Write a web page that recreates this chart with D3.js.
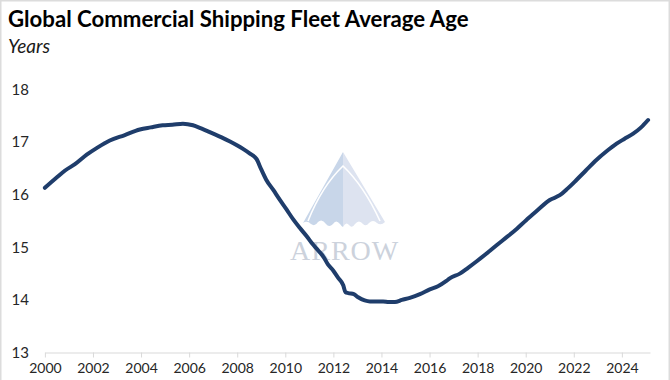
<!DOCTYPE html>
<html>
<head>
<meta charset="utf-8">
<script src="https://cdn.jsdelivr.net/npm/d3@7"></script>
<style>
  html, body { margin: 0; padding: 0; background: #fff; }
  svg { display: block; }
</style>
</head>
<body>
<svg id="chart" width="670" height="380"></svg>
<script>
// ---- data ----
const title = "Global Commercial Shipping Fleet Average Age";
const subtitle = "Years";
const years = [2000.0, 2000.5, 2000.84, 2001.25, 2001.74, 2002.2, 2002.7, 2003.3, 2003.95, 2004.4,
  2004.9, 2005.3, 2005.74, 2006.16, 2006.5, 2007.0, 2007.35, 2007.7, 2008.24, 2008.5,
  2008.8, 2009.0, 2009.2, 2009.5, 2009.76, 2010.05, 2010.33, 2010.6, 2010.89, 2011.1,
  2011.37, 2011.6, 2011.78, 2011.99, 2012.2, 2012.41, 2012.5, 2012.62, 2012.85, 2013.03,
  2013.3, 2013.52, 2013.8, 2014.07, 2014.3, 2014.56, 2014.85, 2015.18, 2015.6, 2016.01,
  2016.35, 2016.7, 2016.84, 2017.26, 2017.6, 2017.95, 2018.5, 2019.06, 2019.5, 2020.03,
  2020.5, 2021.0, 2021.42, 2021.75, 2022.11, 2022.5, 2022.94, 2023.35, 2023.78, 2024.1,
  2024.47, 2024.8, 2025.09];
const ages = [16.13, 16.33, 16.46, 16.58, 16.76, 16.90, 17.03, 17.13, 17.24, 17.28,
  17.32, 17.33, 17.35, 17.32, 17.26, 17.16, 17.09, 17.01, 16.87, 16.79,
  16.68, 16.48, 16.29, 16.09, 15.91, 15.72, 15.53, 15.37, 15.21, 15.08,
  14.94, 14.81, 14.67, 14.56, 14.42, 14.28, 14.15, 14.13, 14.11, 14.05,
  13.99, 13.97, 13.97, 13.97, 13.96, 13.96, 14.00, 14.04, 14.11, 14.20,
  14.26, 14.36, 14.41, 14.50, 14.61, 14.73, 14.93, 15.14, 15.30, 15.52,
  15.71, 15.90, 15.99, 16.12, 16.28, 16.46, 16.66, 16.82, 16.97, 17.06,
  17.16, 17.28, 17.42];
const xTickYears = [2000, 2002, 2004, 2006, 2008, 2010, 2012, 2014, 2016, 2018, 2020, 2022, 2024];
const yTickValues = [13, 14, 15, 16, 17, 18];
const watermarkText = "ARROW";

// ---- drawing ----
const svg = d3.select("#chart");
const fontUI = "Lato, 'Open Sans', 'DejaVu Sans', sans-serif";

// outer light frame
svg.append("rect")
  .attr("x", 0.75).attr("y", 0.75).attr("width", 668.5).attr("height", 390)
  .attr("fill", "none").attr("stroke", "#dcdcdc").attr("stroke-width", 1.5);

const x = d3.scaleLinear().domain([2000, 2025.17]).range([44.9, 650]);
const y = d3.scaleLinear().domain([13, 18]).range([352.5, 89.5]);

// watermark (behind line)
const wm = svg.append("g").attr("class", "watermark");
const ax = 343, ay = 152;
wm.append("path")
  .attr("d", `M${ax},${ay} L303,223 q4,-3 8,1 q4,3 7,-2 q4,-4 8,2 q3,4 7,0 q3,-5 7,0 q2,3 3,3 L${ax},${ay} Z`)
  .attr("fill", "#c8d6e9");
wm.append("path")
  .attr("d", `M${ax},${ay} L343,227 q3,-6 6,-2 q3,4 6,-1 q4,-5 8,0 q3,3 6,-1 q4,-4 8,0 q4,3 8,-1 L${ax},${ay} Z`)
  .attr("fill", "#dde3f0");
wm.append("path")
  .attr("d", "M308,221 Q322,186 343,166 Q364,186 380,221")
  .attr("fill", "none").attr("stroke", "#ffffff").attr("stroke-width", 1.6);
wm.append("text")
  .attr("x", 290).attr("y", 260)
  .attr("font-family", "'Liberation Serif', 'DejaVu Serif', serif")
  .attr("font-size", 28).attr("letter-spacing", 1)
  .attr("fill", "#ccd2dc")
  .text(watermarkText);

// x axis
const xAxis = svg.append("g")
  .attr("transform", `translate(0,${y(13)})`)
  .call(d3.axisBottom(x).tickValues(xTickYears).tickFormat(d3.format("d")).tickSize(5).tickSizeOuter(0).tickPadding(6));
xAxis.select(".domain").attr("stroke", "#d9d9d9").attr("stroke-width", 1);
xAxis.selectAll(".tick line").attr("stroke", "#d9d9d9");
xAxis.selectAll(".tick text").attr("font-family", fontUI).attr("font-size", 14).attr("fill", "#262626");

// y axis (labels only)
const yAxis = svg.append("g")
  .attr("transform", "translate(29,0)")
  .call(d3.axisLeft(y).tickValues(yTickValues).tickFormat(d3.format("d")).tickSize(0).tickPadding(0));
yAxis.select(".domain").remove();
yAxis.selectAll(".tick text").attr("font-family", fontUI).attr("font-size", 15).attr("fill", "#262626");

// line
const line = d3.line().x((d, i) => x(years[i])).y(d => y(d)).curve(d3.curveMonotoneX);
svg.append("path")
  .datum(ages)
  .attr("d", line)
  .attr("fill", "none")
  .attr("stroke", "#1f3d6b")
  .attr("stroke-width", 4)
  .attr("stroke-linecap", "round")
  .attr("stroke-linejoin", "round");

// titles
svg.append("text")
  .attr("x", 8).attr("y", 27)
  .attr("font-family", fontUI).attr("font-weight", "bold").attr("font-size", 22.2)
  .attr("fill", "#000")
  .text(title);
svg.append("text")
  .attr("x", 8).attr("y", 53)
  .attr("font-family", fontUI).attr("font-style", "italic").attr("font-size", 19)
  .attr("fill", "#1a1a1a")
  .text(subtitle);
</script>
</body>
</html>
